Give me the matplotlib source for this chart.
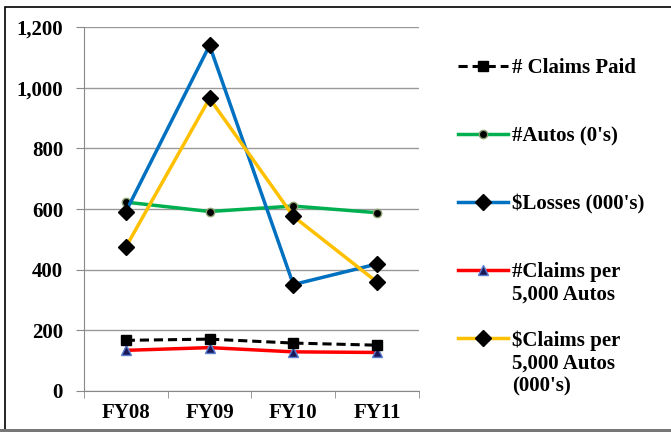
import matplotlib.pyplot as plt
from matplotlib.patches import Rectangle

years = ["FY08", "FY09", "FY10", "FY11"]
claims_paid = [167, 171, 158, 151]
autos = [623, 592, 610, 588]
losses = [591, 1140, 351, 419]
claims_per_5k = [134, 143, 129, 127]
dollar_claims_per_5k = [474, 965, 576, 359]

plt.rcParams['font.family'] = ['Liberation Serif', 'DejaVu Serif']
plt.rcParams['font.weight'] = 'bold'

fig = plt.figure(figsize=(6.71, 4.32), dpi=100)
ax = fig.add_axes([0.125, 0.095, 0.4995, 0.842])

x = range(len(years))
ax.plot(x, claims_paid, color='black', ls=(0, (3, 1.6)), lw=2.2, marker='s', ms=7,
        label="# Claims Paid\n", zorder=5)
ax.plot(x, autos, color='#00B050', lw=2.5, marker='o', ms=6, mfc='black', mec='#8aa070',
        label="#Autos (0's)\n", zorder=3)
ax.plot(x, losses, color='#0070C0', lw=2.5, marker='D', ms=8.5, mfc='black', mec='black',
        label="$Losses (000's)\n", zorder=4)
ax.plot(x, claims_per_5k, color='#FF0000', lw=2.5, marker='^', ms=7, mfc='#1a1a5a',
        mec='#5b7fd0', label="#Claims per\n5,000 Autos", zorder=4)
ax.plot(x, dollar_claims_per_5k, color='#FFC000', lw=2.5, marker='D', ms=8.5, mfc='black',
        mec='black', label="$Claims per\n5,000 Autos\n(000's)", zorder=4)

ax.set_xlim(-0.5, 3.5)
ax.set_ylim(0, 1200)
ax.set_yticks(range(0, 1201, 200))
ax.set_yticklabels([f"{v:,}" for v in range(0, 1201, 200)])
ax.set_xticks(x)
ax.set_xticklabels(years)
ax.set_xticks([-0.5, 0.5, 1.5, 2.5, 3.5], minor=True)
ax.tick_params(axis='x', which='major', length=0, pad=9, labelsize=15)
ax.tick_params(axis='x', which='minor', length=5, color='#888888', direction='out')
ax.tick_params(axis='y', length=6, color='#888888', pad=9, labelsize=15)
ax.grid(axis='y', color='#999999', lw=1)
ax.set_axisbelow(True)
for s in ['top', 'right']:
    ax.spines[s].set_visible(False)
ax.spines['left'].set_color('#888888')
ax.spines['bottom'].set_color('#888888')

leg = fig.legend(loc='upper left', bbox_to_anchor=(458 / 671, 1 - 58 / 432), frameon=False,
                 fontsize=15, handlelength=2.4, handletextpad=0.2, labelspacing=1.2,
                 handleheight=1.0, borderpad=0, borderaxespad=0)
# put the handle next to the first text line, like Excel does
for col in leg._legend_handle_box.get_children():
    for item in col.get_children():
        item.align = 'top'

fig.patches.append(Rectangle((5 / 671, 2 / 432), 1.1, 423 / 432, transform=fig.transFigure,
                             fill=False, edgecolor='black', lw=1.2))
fig.patches.append(Rectangle((0, 0), 1, 3 / 432, transform=fig.transFigure,
                             color='#777777', lw=0))

fig.savefig('out.png', dpi=100)
